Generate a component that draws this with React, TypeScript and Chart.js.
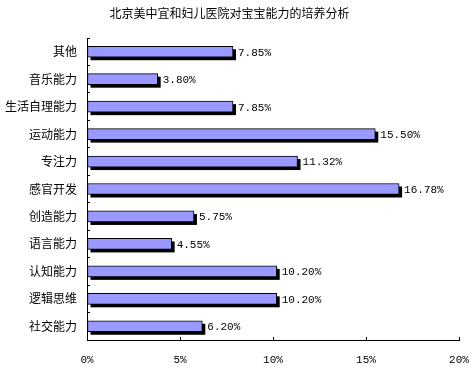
import React, { useEffect, useRef } from "react";
import { Chart, registerables } from "chart.js";

Chart.register(...registerables);

const titleText = "北京美中宜和妇儿医院对宝宝能力的培养分析";
const categories = [
  "其他",
  "音乐能力",
  "生活自理能力",
  "运动能力",
  "专注力",
  "感官开发",
  "创造能力",
  "语言能力",
  "认知能力",
  "逻辑思维",
  "社交能力",
];
const values = [7.85, 3.8, 7.85, 15.5, 11.32, 16.78, 5.75, 4.55, 10.2, 10.2, 6.2];
const xTicks = [0, 5, 10, 15, 20];

const shadowPlugin = {
  id: "barShadow",
  beforeDatasetsDraw(chart: any) {
    const ctx = chart.ctx;
    const meta = chart.getDatasetMeta(0);
    ctx.save();
    ctx.fillStyle = "#000000";
    meta.data.forEach((el: any) => {
      const p = el.getProps(["x", "y", "base", "height"], true);
      const left = Math.min(p.base, p.x);
      const right = Math.max(p.base, p.x);
      ctx.fillRect(left + 3, p.y - p.height / 2 + 3, right - left, p.height);
    });
    ctx.restore();
  },
};

const labelPlugin = {
  id: "barLabels",
  afterDatasetsDraw(chart: any) {
    const ctx = chart.ctx;
    const meta = chart.getDatasetMeta(0);
    ctx.save();
    ctx.fillStyle = "#000000";
    ctx.font = "11px 'Liberation Mono', 'DejaVu Sans Mono', monospace";
    ctx.textAlign = "left";
    ctx.textBaseline = "middle";
    meta.data.forEach((el: any, i: number) => {
      const p = el.getProps(["x", "y"], true);
      ctx.fillText(values[i].toFixed(2) + "%", p.x + 5, p.y + 1);
    });
    ctx.restore();
  },
};

export default function App() {
  const canvasRef = useRef<HTMLCanvasElement | null>(null);

  useEffect(() => {
    document.body.style.margin = "0";
    const canvas = canvasRef.current;
    if (!canvas) return;
    const chart = new Chart(canvas, {
      type: "bar",
      data: {
        labels: categories,
        datasets: [
          {
            data: values,
            backgroundColor: "#9999FF",
            borderColor: "#000000",
            borderWidth: 1,
            borderSkipped: false,
            barThickness: 11,
          },
        ],
      },
      options: {
        indexAxis: "y",
        responsive: false,
        animation: false,
        devicePixelRatio: 1,
        layout: { padding: { left: 0, right: 13, top: 0, bottom: 0 } },
        plugins: {
          legend: { display: false },
          tooltip: { enabled: false },
          title: {
            display: true,
            text: titleText,
            color: "#000000",
            font: { family: "'Noto Sans CJK SC', sans-serif", size: 12, weight: "normal", lineHeight: 1.2 },
            padding: { top: 6, bottom: 17.6 },
          },
        },
        scales: {
          x: {
            min: 0,
            max: 20,
            afterFit(scale: any) {
              scale.height = 28;
              scale.paddingLeft = 0;
              scale.paddingRight = 0;
            },
            afterBuildTicks(scale: any) {
              scale.ticks = xTicks.map((v) => ({ value: v }));
            },
            border: { display: true, color: "#000000", width: 1 },
            grid: {
              display: true,
              drawOnChartArea: false,
              drawTicks: true,
              tickLength: -3,
              color: "#000000",
            },
            ticks: {
              color: "#000000",
              padding: 16,
              maxRotation: 0,
              font: { family: "'Liberation Mono', 'DejaVu Sans Mono', monospace", size: 11 },
              callback: (v: any) => v + "%",
            },
          },
          y: {
            afterFit(scale: any) {
              scale.width = 87;
              scale.paddingTop = 0;
              scale.paddingBottom = 0;
            },
            border: { display: true, color: "#000000", width: 1 },
            grid: {
              display: true,
              offset: true,
              drawOnChartArea: false,
              drawTicks: true,
              tickLength: -3,
              color: "#000000",
            },
            ticks: {
              color: "#000000",
              padding: 13,
              autoSkip: false,
              font: { family: "'Noto Sans CJK SC', sans-serif", size: 12 },
            },
          },
        },
      },
      plugins: [shadowPlugin, labelPlugin],
    });
    return () => chart.destroy();
  }, []);

  return (
    <div style={{ width: 472, height: 368, background: "#ffffff" }}>
      <canvas ref={canvasRef} width={472} height={368} style={{ display: "block" }} />
    </div>
  );
}
